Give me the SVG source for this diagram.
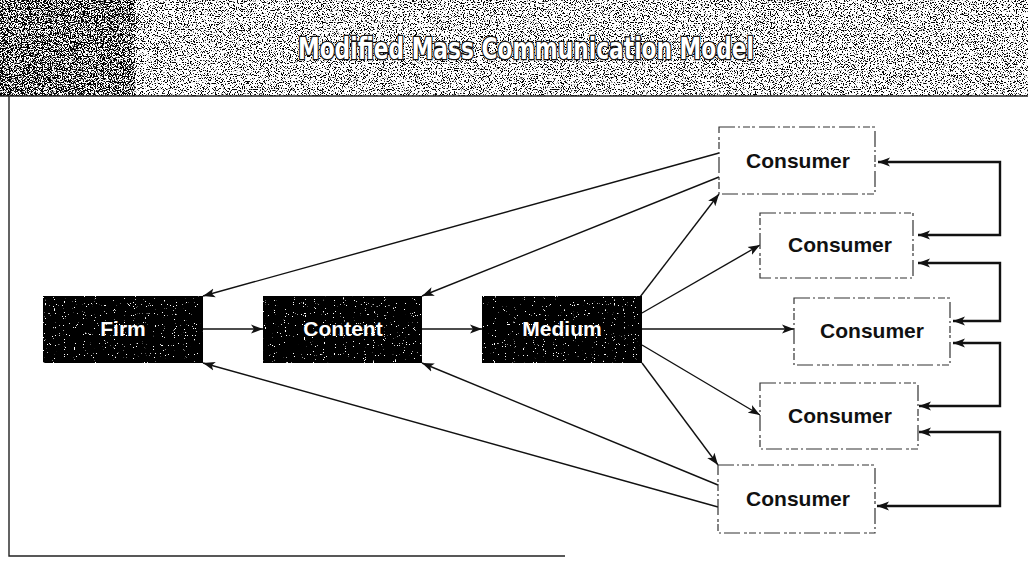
<svg xmlns="http://www.w3.org/2000/svg" width="1028" height="564" viewBox="0 0 1028 564">
  <defs>
    <style>
      .lbl { font-family: "Liberation Sans", Arial, sans-serif; font-weight: bold; font-size: 21px; text-anchor: middle; }
      .dark { fill: #000; }
      .dark-text { fill: #fff; }
      .cons { fill: #fff; stroke: #333; stroke-width: 1.2; stroke-dasharray: 16 3 2 3 7 2 3 4; }
      .cons-text { fill: #111; }
      .link { fill: none; stroke: #111; stroke-width: 1.4; marker-end: url(#arrow); }
      .loop { fill: none; stroke: #111; stroke-width: 2.4; marker-start: url(#arrow); marker-end: url(#arrow); }
      .frame { fill: none; stroke: #222; stroke-width: 1.4; }
    </style>
    <marker id="arrow" markerUnits="userSpaceOnUse" markerWidth="14" markerHeight="10" refX="12" refY="5" orient="auto-start-reverse">
      <path d="M0,0.5 L12,5 L0,9.5 L3,5 Z" fill="#111"/>
    </marker>
    <!-- dark speckle for the header band -->
    <filter id="grain" x="0" y="0" width="100%" height="100%">
      <feTurbulence type="fractalNoise" baseFrequency="0.85" numOctaves="2" seed="7" result="n"/>
      <feColorMatrix in="n" type="matrix" values="0 0 0 0 0  0 0 0 0 0  0 0 0 0 0  -14 0 0 0 6.3"/>
    </filter>
    <filter id="grainDense" x="0" y="0" width="100%" height="100%">
      <feTurbulence type="fractalNoise" baseFrequency="0.85" numOctaves="2" seed="11" result="n"/>
      <feColorMatrix in="n" type="matrix" values="0 0 0 0 0  0 0 0 0 0  0 0 0 0 0  -14 0 0 0 7.0"/>
    </filter>
    <!-- light specks on the solid boxes -->
    <filter id="specks" x="0" y="0" width="100%" height="100%">
      <feTurbulence type="fractalNoise" baseFrequency="0.9" numOctaves="1" seed="4" result="n"/>
      <feColorMatrix in="n" type="matrix" values="0 0 0 0 1  0 0 0 0 1  0 0 0 0 1  30 0 0 0 -20.6"/>
    </filter>
  </defs>

  <rect width="1028" height="564" fill="#fff"/>

  <!-- header band -->
  <g id="header">
    <rect x="0" y="0" width="1028" height="96" fill="#fff" filter="url(#grain)"/>
    <rect x="0" y="0" width="135" height="96" fill="#fff" filter="url(#grainDense)"/>
    <text x="526" y="59" font-family="'DejaVu Sans Condensed', 'DejaVu Sans', sans-serif" font-weight="bold" font-size="30" text-anchor="middle" textLength="456" lengthAdjust="spacingAndGlyphs" fill="#fff" stroke="#111" stroke-width="2.6" paint-order="stroke">Modified Mass Communication Model</text>
  </g>

  <!-- frame -->
  <path class="frame" d="M0,96 H1028 M9,96 V556 H565"/>

  <!-- connectors -->
  <g id="connectors">
    <path class="link" d="M203,329 H263"/>
    <path class="link" d="M422,329 H482" stroke-width="2.6"/>
    <path class="link" d="M642,329 H794"/>
    <path class="link" d="M719,153 L203,296"/>
    <path class="link" d="M719,177 L422,296"/>
    <path class="link" d="M718,507 L203,363"/>
    <path class="link" d="M718,485 L422,363"/>
    <path class="link" d="M640,297 L719,194"/>
    <path class="link" d="M642,313 L760,245"/>
    <path class="link" d="M642,345 L760,415"/>
    <path class="link" d="M642,363 L718,465"/>
    <path class="loop" d="M918,235 H1000 V162 H878"/>
    <path class="loop" d="M918,263 H1000 V321 H953"/>
    <path class="loop" d="M953,343 H1000 V406 H919"/>
    <path class="loop" d="M919,432 H1000 V506 H877"/>
  </g>

  <!-- solid nodes -->
  <g id="firm">
    <rect class="dark" x="43" y="296" width="160" height="67"/>
    <rect x="43" y="296" width="160" height="67" filter="url(#specks)"/>
    <text class="lbl dark-text" x="123" y="336">Firm</text>
  </g>
  <g id="content">
    <rect class="dark" x="263" y="296" width="159" height="67"/>
    <rect x="263" y="296" width="159" height="67" filter="url(#specks)"/>
    <text class="lbl dark-text" x="343" y="336">Content</text>
  </g>
  <g id="medium">
    <rect class="dark" x="482" y="296" width="160" height="67"/>
    <rect x="482" y="296" width="160" height="67" filter="url(#specks)"/>
    <text class="lbl dark-text" x="562" y="336">Medium</text>
  </g>

  <!-- consumer nodes -->
  <g id="consumer1">
    <rect class="cons" x="719" y="127" width="156" height="67"/>
    <text class="lbl cons-text" x="798" y="168">Consumer</text>
  </g>
  <g id="consumer2">
    <rect class="cons" x="760" y="213" width="153" height="65"/>
    <text class="lbl cons-text" x="840" y="252">Consumer</text>
  </g>
  <g id="consumer3">
    <rect class="cons" x="794" y="298" width="156" height="67"/>
    <text class="lbl cons-text" x="872" y="338">Consumer</text>
  </g>
  <g id="consumer4">
    <rect class="cons" x="760" y="383" width="158" height="66"/>
    <text class="lbl cons-text" x="840" y="423">Consumer</text>
  </g>
  <g id="consumer5">
    <rect class="cons" x="718" y="465" width="157" height="68"/>
    <text class="lbl cons-text" x="798" y="506">Consumer</text>
  </g>
</svg>
